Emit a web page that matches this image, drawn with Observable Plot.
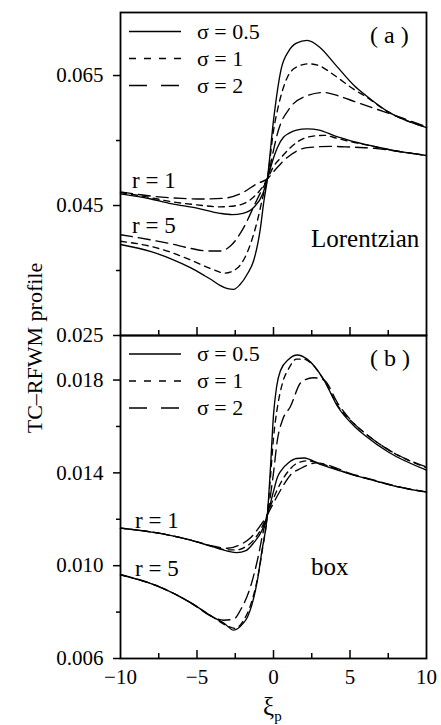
<!DOCTYPE html>
<html><head><meta charset="utf-8">
<script src="https://cdn.jsdelivr.net/npm/d3@7"></script>
<script src="https://cdn.jsdelivr.net/npm/@observablehq/plot@0.6"></script>
<style>
body{margin:0;background:#fff;}
#wrap{position:relative;width:441px;height:725px;font-family:"Liberation Serif","DejaVu Serif",serif;color:#000;overflow:hidden;}
#wrap svg{position:absolute;left:0;}
</style></head><body><div id="wrap"></div>
<script>
// ---- ticks / labels ----
const xiTicksMajor = [-5, 0, 5];
const xiTicksMinor = [-7.5, -2.5, 2.5, 7.5];
const xiLabels = [-10, -5, 0, 5, 10];
const yTicksA = [0.025, 0.045, 0.065];
const yMinorA = [0.035, 0.055];
const yTicksB = [0.006, 0.010, 0.014, 0.018];
const yMinorB = [0.008, 0.012, 0.016];
const sigmaLabels = ["σ = 0.5", "σ = 1", "σ = 2"];
const rLabels = ["r = 1", "r = 5"];

// ---- panel (a) Lorentzian ----
const xA_r1_s05 = [-10,-8,-6.7,-5,-3.5,-2.7,-2,-1.3,-0.7,-0.4,0,0.25,0.65,1,1.5,2.2,3,4,5,6.4,8,10];
const yA_r1_s05 = [0.0468,0.0460,0.0453,0.0446,0.0438,0.0436,0.0438,0.0447,0.0468,0.0491,0.0523,0.0539,0.0555,0.0561,0.0566,0.0568,0.0566,0.0557,0.0550,0.0542,0.0534,0.0527];
const xA_r1_s1 = [-10,-8,-6.7,-5,-3.5,-2.4,-1.3,-0.8,-0.4,0,0.5,1.1,2.2,3.3,4.2,5.3,6.5,8,10];
const yA_r1_s1 = [0.0470,0.0462,0.0456,0.0451,0.0448,0.0450,0.0463,0.0476,0.0491,0.0510,0.0524,0.0539,0.0555,0.0558,0.0553,0.0547,0.0541,0.0534,0.0527];
const xA_r1_s2 = [-10,-7.8,-6,-4.6,-3.3,-2,-1.05,-0.4,0,0.9,2.2,3.8,5,6.6,8.5,10];
const yA_r1_s2 = [0.0471,0.0464,0.0461,0.0460,0.0461,0.0470,0.0484,0.0491,0.0502,0.0524,0.0539,0.0541,0.0540,0.0538,0.0532,0.0527];
const xA_r5_s05 = [-10,-8,-6.7,-5.4,-4.5,-4,-3.5,-3,-2.6,-2.2,-1.7,-1.3,-0.85,-0.65,-0.4,0,0.5,1,1.5,2.2,3,4,5.3,6,7.5,10];
const yA_r5_s05 = [0.0390,0.0379,0.0368,0.0354,0.0342,0.0335,0.0327,0.0322,0.0321,0.0328,0.0345,0.0365,0.0416,0.0453,0.0491,0.0581,0.0660,0.0688,0.0700,0.0704,0.0694,0.0668,0.0634,0.0620,0.0594,0.0570];
const xA_r5_s1 = [-10,-8,-6.7,-5.4,-4,-3.2,-2.4,-1.5,-1.05,-0.7,-0.4,0,0.3,0.9,1.5,2.3,3,4,5.3,6,7.5,10];
const yA_r5_s1 = [0.0395,0.0387,0.0378,0.0366,0.0352,0.0346,0.0353,0.0391,0.0427,0.0463,0.0491,0.0565,0.0601,0.0647,0.0663,0.0668,0.0665,0.0650,0.0628,0.0618,0.0594,0.0570];
const xA_r5_s2 = [-10,-8,-6.7,-5.4,-4.3,-3.5,-2.8,-1.95,-1.2,-0.7,-0.4,0,0.25,1.1,2.2,3.3,4.2,5.3,6.4,8.5,10];
const yA_r5_s2 = [0.0405,0.0397,0.0391,0.0384,0.0380,0.0380,0.0388,0.0416,0.0453,0.0477,0.0491,0.0535,0.0560,0.0601,0.0619,0.0624,0.0619,0.0610,0.0601,0.0584,0.0571];

// ---- panel (b) box ----
const xB_r1_s05 = [-10,-7.5,-5.4,-4,-3,-2.4,-1.8,-1.3,-0.75,-0.4,0,0.25,0.5,1,1.5,2,3,4.2,5,6.4,8,10];
const yB_r1_s05 = [0.01162,0.0114,0.0111,0.01082,0.01063,0.01056,0.01065,0.01098,0.01153,0.0122,0.0132,0.0138,0.0141,0.01445,0.01462,0.01464,0.01438,0.01412,0.01395,0.0137,0.01342,0.01317];
const xB_r1_s1 = [-10,-7.5,-5.4,-4,-3,-2.4,-1.8,-1.3,-0.8,-0.4,0,0.5,1,1.5,2.2,3,4.2,5,6.4,8,10];
const yB_r1_s1 = [0.01162,0.0114,0.0111,0.01083,0.01068,0.01068,0.01082,0.0111,0.0116,0.0122,0.0129,0.0136,0.0141,0.0144,0.01452,0.01442,0.01414,0.01396,0.0137,0.01342,0.01317];
const xB_r1_s2 = [-10,-7.5,-5.4,-4,-3,-2.2,-1.5,-1,-0.4,0,0.5,1.1,1.8,2.8,4.2,5,6.4,8,10];
const yB_r1_s2 = [0.01162,0.0114,0.0111,0.01085,0.01075,0.0109,0.0112,0.0116,0.0122,0.0127,0.0133,0.0139,0.0142,0.01443,0.01418,0.01398,0.01372,0.01343,0.01318];
const xB_r5_s05 = [-10,-7.5,-5.4,-4,-3.25,-2.6,-2,-1.7,-1.05,-0.75,-0.4,-0.2,0,0.2,0.45,1,1.55,2.2,3.3,4.2,5.3,6,7.5,10];
const yB_r5_s05 = [0.0096,0.0091,0.0084,0.0078,0.00753,0.00722,0.0075,0.00779,0.00938,0.01067,0.0122,0.0142,0.0165,0.0177,0.0184,0.0189,0.01908,0.0189,0.0180,0.01685,0.0160,0.0156,0.0149,0.01412];
const xB_r5_s1 = [-10,-7.5,-5.4,-4,-3,-2.5,-2,-1.5,-1,-0.7,-0.4,-0.2,0,0.3,0.6,1,1.5,2,2.5,3.3,4.2,5.3,6,7.5,10];
const yB_r5_s1 = [0.0096,0.0091,0.0084,0.0078,0.0074,0.0073,0.0076,0.0083,0.0096,0.0108,0.0122,0.0138,0.0155,0.0170,0.0179,0.0185,0.0189,0.0189,0.0187,0.0180,0.0169,0.0161,0.0157,0.0150,0.01422];
const xB_r5_s2 = [-10,-7.5,-5.4,-4,-3.25,-2.6,-2.15,-1.5,-1.05,-0.65,-0.4,0,0.25,0.6,1.1,1.8,2.6,3.3,4.2,5.3,6,7.5,10];
const yB_r5_s2 = [0.00962,0.0091,0.0084,0.0078,0.00765,0.0077,0.0081,0.0091,0.01024,0.01153,0.0122,0.0140,0.0154,0.0163,0.01685,0.0179,0.0181,0.0180,0.0170,0.0161,0.0157,0.0150,0.01425];

// ---- helpers ----
const rows = (xs, ys, r) => xs.map((x, i) => ({xi: x, v: ys[i], r}));
const dashes = [null, "6,5", "12,6"];
const legendDashes = [null, "7,8", "18,14"];

const seriesA = [
  rows(xA_r1_s05, yA_r1_s05, 1).concat(rows(xA_r5_s05, yA_r5_s05, 5)),
  rows(xA_r1_s1, yA_r1_s1, 1).concat(rows(xA_r5_s1, yA_r5_s1, 5)),
  rows(xA_r1_s2, yA_r1_s2, 1).concat(rows(xA_r5_s2, yA_r5_s2, 5))
];
const seriesB = [
  rows(xB_r1_s05, yB_r1_s05, 1).concat(rows(xB_r5_s05, yB_r5_s05, 5)),
  rows(xB_r1_s1, yB_r1_s1, 1).concat(rows(xB_r5_s1, yB_r5_s1, 5)),
  rows(xB_r1_s2, yB_r1_s2, 1).concat(rows(xB_r5_s2, yB_r5_s2, 5))
];

const fmt3 = d3.format(".3f");
const blank = () => "";
const common = {
  width: 441, marginLeft: 120, marginRight: 15,
  x: {domain: [-10, 10]},
  style: {fontFamily: '"Liberation Serif", serif', fontSize: "21px", color: "#000", background: "transparent", overflow: "visible"}
};
function lineMarks(sets) {
  return sets.map((d, i) => Plot.line(d, {x: "xi", y: "v", z: "r", stroke: "#000", strokeWidth: 1.35, strokeDasharray: dashes[i], curve: "monotone-x"}));
}
function innerXTicks() {
  return [
    Plot.axisX({ticks: xiTicksMajor, tickSize: 8, dy: -8, tickFormat: blank, label: null, strokeWidth: 1.5}),
    Plot.axisX({ticks: xiTicksMinor, tickSize: 5, dy: -5, tickFormat: blank, label: null, strokeWidth: 1.5})
  ];
}

const plotA = Plot.plot({
  ...common, height: 341, marginTop: 12, marginBottom: 6,
  y: {domain: [0.025, 0.0747]},
  marks: [
    Plot.axisY({ticks: yTicksA, tickFormat: fmt3, tickSize: 7, tickPadding: 10, label: null, strokeWidth: 1.5}),
    Plot.axisY({ticks: yMinorA, tickSize: 4, tickFormat: blank, label: null, strokeWidth: 1.5}),
    ...innerXTicks(),
    ...lineMarks(seriesA),
    Plot.frame({stroke: "#000", strokeWidth: 1.8})
  ]
});
const plotB = Plot.plot({
  ...common, height: 400, marginTop: 10, marginBottom: 67,
  y: {domain: [0.006, 0.01992]},
  marks: [
    Plot.axisY({ticks: yTicksB, tickFormat: fmt3, tickSize: 7, tickPadding: 10, label: null, strokeWidth: 1.5}),
    Plot.axisY({ticks: yMinorB, tickSize: 4, tickFormat: blank, label: null, strokeWidth: 1.5}),
    ...innerXTicks(),
    Plot.axisX({ticks: xiLabels, tickSize: 0, tickPadding: 11, label: null, fontSize: 21}),
    ...lineMarks(seriesB),
    Plot.frame({stroke: "#000", strokeWidth: 1.8})
  ]
});

const wrap = document.getElementById("wrap");
plotA.style.top = "0px";
plotB.style.top = "325px";
wrap.appendChild(plotA);
wrap.appendChild(plotB);

// ---- overlay text: legends, labels ----
const ov = d3.select(wrap).append("svg")
  .attr("width", 441).attr("height", 725)
  .style("top", "0px").style("pointer-events", "none")
  .attr("font-family", '"Liberation Serif", serif').attr("fill", "#000");

function legend(y0) {
  sigmaLabels.forEach((s, i) => {
    const y = y0 + i * 27;
    ov.append("line").attr("x1", 129).attr("x2", 181).attr("y1", y).attr("y2", y)
      .attr("stroke", "#000").attr("stroke-width", 1.3).attr("stroke-dasharray", legendDashes[i]);
    ov.append("text").attr("x", 197).attr("y", y + 7).attr("font-size", 22).text(s);
  });
}
legend(31.5);
legend(354);

function label(x, y, size, t) {
  ov.append("text").attr("x", x).attr("y", y).attr("font-size", size).attr("xml:space", "preserve").text(t);
}
label(370, 43, 24, "( a )");
label(370, 366, 24, "( b )");
label(132, 188, 23, rLabels[0]);
label(132, 233, 23, rLabels[1]);
label(135, 528, 23, rLabels[0]);
label(135, 576, 23, rLabels[1]);
label(311, 247, 25, "Lorentzian");
label(311, 575, 25, "box");

// y-axis title
ov.append("text").attr("transform", "translate(42,348) rotate(-90)")
  .attr("text-anchor", "middle").attr("font-size", 22).text("TC–RFWM profile");
// x-axis title
const xt = ov.append("text").attr("x", 263).attr("y", 715).attr("font-size", 25);
xt.append("tspan").text("ξ");
xt.append("tspan").attr("dy", 6).attr("font-size", 15).text("p");
</script></body></html>
